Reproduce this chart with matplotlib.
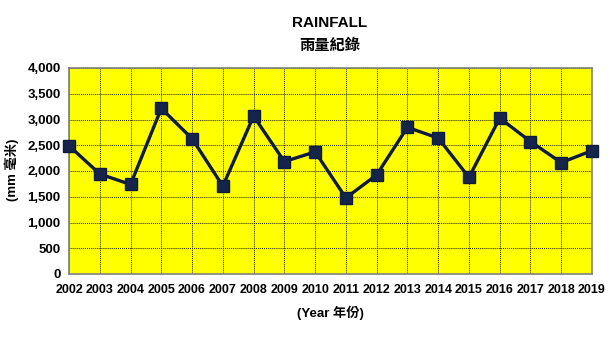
import matplotlib
matplotlib.use("Agg")
import matplotlib.pyplot as plt
from matplotlib.ticker import MultipleLocator, FuncFormatter

plt.rcParams['font.family'] = ['Liberation Sans', 'Noto Sans CJK TC', 'DejaVu Sans']

# ----- Data -----
years = [2002, 2003, 2004, 2005, 2006, 2007, 2008, 2009, 2010,
         2011, 2012, 2013, 2014, 2015, 2016, 2017, 2018, 2019]
rainfall = [2490, 1942, 1739, 3215, 2628, 1707, 3066, 2183, 2372,
            1477, 1925, 2848, 2639, 1877, 3027, 2572, 2163, 2396]

# ----- Plot -----
fig = plt.figure(figsize=(6.15, 3.5), dpi=100)
ax = fig.add_axes([69 / 615, 1 - 274 / 350, (592 - 69) / 615, (274 - 68) / 350])
ax.set_facecolor("#ffff00")

ax.plot(years, rainfall, color="#0f1a3c", linewidth=2.4, marker="s",
        markersize=8.5, markerfacecolor="#14244a", markeredgecolor="#0f1a3c",
        zorder=3, clip_on=False)

ax.set_xlim(years[0], years[-1])
ax.set_ylim(0, 4000)
ax.set_xticks(years)
ax.yaxis.set_major_locator(MultipleLocator(500))
ax.yaxis.set_major_formatter(FuncFormatter(lambda v, p: f"{int(v):,}"))
ax.grid(True, color="#222222", linestyle=(0, (1, 1)), linewidth=0.7)
ax.tick_params(axis="x", length=0, labelsize=9, pad=7)
ax.tick_params(axis="y", length=0, labelsize=9.5, pad=6)
for lbl in ax.get_xticklabels() + ax.get_yticklabels():
    lbl.set_fontweight("bold")

for side in ["top", "right", "bottom", "left"]:
    ax.spines[side].set_color("#808080")
    ax.spines[side].set_linewidth(1.2)

fig.text(330 / 615, 1 - 23 / 350, "RAINFALL", ha="center", va="center",
         fontsize=11, fontweight="bold")
fig.text(330 / 615, 1 - 46 / 350, "雨量紀錄", ha="center", va="center",
         fontsize=11, fontweight="bold")
fig.text(12 / 615, 1 - 170 / 350, "(mm 毫米)", ha="center", va="center",
         rotation=90, fontsize=9.5, fontweight="bold")
fig.text(330 / 615, 1 - 313 / 350, "(Year 年份)", ha="center", va="center",
         fontsize=9.5, fontweight="bold")

fig.savefig("out.png", dpi=100)
